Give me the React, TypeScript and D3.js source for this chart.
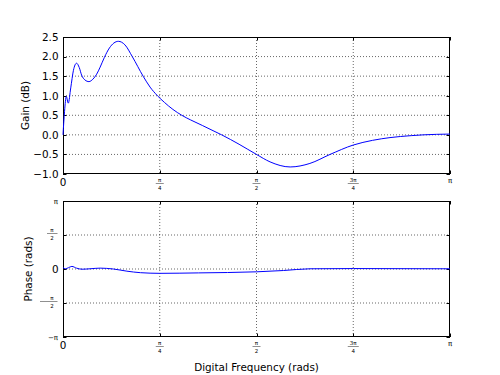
import * as d3 from 'd3';
import React, { useEffect, useRef } from 'react';

// frequency as a fraction of pi
const gainFreq = [0, 0.004, 0.0086, 0.0137, 0.02, 0.027, 0.035, 0.042, 0.048, 0.057, 0.067, 0.077, 0.087, 0.096, 0.107, 0.12, 0.143, 0.16, 0.179, 0.207, 0.225, 0.244, 0.262, 0.284, 0.307, 0.33, 0.36, 0.385, 0.41, 0.455, 0.5, 0.535, 0.587, 0.638, 0.69, 0.75, 0.8, 0.845, 0.9, 0.931, 1.0];
const gainDb = [0.0, 0.6, 0.98, 0.81, 1.2, 1.65, 1.83, 1.72, 1.53, 1.4, 1.36, 1.42, 1.55, 1.73, 1.98, 2.22, 2.39, 2.3, 2.0, 1.5, 1.22, 1.0, 0.83, 0.65, 0.5, 0.38, 0.24, 0.12, 0.0, -0.24, -0.5, -0.69, -0.82, -0.73, -0.5, -0.26, -0.14, -0.07, -0.02, 0.0, 0.02];

const phaseFreq = [0, 0.006, 0.014, 0.023, 0.035, 0.049, 0.07, 0.096, 0.13, 0.165, 0.2, 0.25, 0.35, 0.5, 0.57, 0.638, 0.75, 1.0];
const phaseRad = [0.07, 0.01, 0.06, 0.12, 0.04, -0.01, 0.01, 0.04, 0.0, -0.1, -0.17, -0.2, -0.18, -0.13, -0.07, 0.01, 0.02, 0.01];

const gainTicks = [-1.0, -0.5, 0.0, 0.5, 1.0, 1.5, 2.0, 2.5];
// pi-fraction ticks: [numerator, denominator] ('' denominator = no fraction)
const xTicks: { v: number; num: string; den: string }[] = [
    { v: 0, num: '0', den: '' },
    { v: 0.25, num: 'π', den: '4' },
    { v: 0.5, num: 'π', den: '2' },
    { v: 0.75, num: '3π', den: '4' },
    { v: 1, num: 'π', den: '' },
];
const phaseTicks: { v: number; num: string; den: string; neg: boolean }[] = [
    { v: -1, num: 'π', den: '', neg: true },
    { v: -0.5, num: 'π', den: '2', neg: true },
    { v: 0, num: '0', den: '', neg: false },
    { v: 0.5, num: 'π', den: '2', neg: false },
    { v: 1, num: 'π', den: '', neg: false },
];

const FONT = '"DejaVu Sans", sans-serif';

export default function App() {
    const ref = useRef<SVGSVGElement>(null);
    const width = 500;
    const height = 375;
    const left = 63;
    const right = 450;

    useEffect(() => {
        const svg = d3.select(ref.current);
        svg.selectAll('*').remove();

        const x = d3.scaleLinear().domain([0, 1]).range([left, right]);

        const panel = (top: number, bottom: number, y: d3.ScaleLinear<number, number>, yVals: number[]) => {
            const g = svg.append('g');
            // grid
            xTicks.slice(1, -1).forEach((t) => {
                g.append('line')
                    .attr('x1', x(t.v)).attr('x2', x(t.v))
                    .attr('y1', top).attr('y2', bottom)
                    .attr('stroke', '#000').attr('stroke-width', 0.6)
                    .attr('stroke-dasharray', '1,2');
            });
            yVals.forEach((v) => {
                const yy = y(v);
                if (Math.abs(yy - top) < 1 || Math.abs(yy - bottom) < 1) return;
                g.append('line')
                    .attr('x1', left).attr('x2', right)
                    .attr('y1', yy).attr('y2', yy)
                    .attr('stroke', '#000').attr('stroke-width', 0.6)
                    .attr('stroke-dasharray', '1,2');
            });
            // ticks inward on all sides
            xTicks.forEach((t) => {
                const xx = Math.round(x(t.v)) + 0.5;
                g.append('line').attr('x1', xx).attr('x2', xx).attr('y1', bottom).attr('y2', bottom - 3.5).attr('stroke', '#000');
                g.append('line').attr('x1', xx).attr('x2', xx).attr('y1', top).attr('y2', top + 3.5).attr('stroke', '#000');
            });
            yVals.forEach((v) => {
                const yy = Math.round(y(v)) + 0.5;
                g.append('line').attr('x1', left).attr('x2', left + 3.5).attr('y1', yy).attr('y2', yy).attr('stroke', '#000');
                g.append('line').attr('x1', right).attr('x2', right - 3.5).attr('y1', yy).attr('y2', yy).attr('stroke', '#000');
            });
            // x tick labels
            xTicks.forEach((t) => {
                const xx = x(t.v);
                if (t.num === '0') {
                    g.append('text').attr('x', xx).attr('y', bottom + 11.5)
                        .attr('text-anchor', 'middle').attr('font-size', 10.4).attr('font-family', FONT).text('0');
                } else if (t.den === '') {
                    g.append('text').attr('x', xx).attr('y', bottom + 9)
                        .attr('text-anchor', 'middle').attr('font-size', 7).attr('font-family', FONT).text(t.num);
                } else {
                    const w = t.num.length > 1 ? 11 : 8;
                    g.append('text').attr('x', xx).attr('y', bottom + 7.5)
                        .attr('text-anchor', 'middle').attr('font-size', 5.5).attr('font-family', FONT).text(t.num);
                    g.append('line').attr('x1', xx - w / 2).attr('x2', xx + w / 2)
                        .attr('y1', bottom + 9.5).attr('y2', bottom + 9.5).attr('stroke', '#444').attr('stroke-width', 0.6);
                    g.append('text').attr('x', xx).attr('y', bottom + 16)
                        .attr('text-anchor', 'middle').attr('font-size', 5.5).attr('font-family', FONT).text(t.den);
                }
            });
            // frame
            g.append('rect')
                .attr('x', left + 0.5).attr('y', top + 0.5)
                .attr('width', right - left - 1).attr('height', bottom - top - 1)
                .attr('fill', 'none').attr('stroke', '#000').attr('stroke-width', 1);
            return g;
        };

        // gain panel
        const gTop = 37;
        const gBottom = 174;
        const yGain = d3.scaleLinear().domain([-1, 2.5]).range([gBottom, gTop]);
        const g1 = panel(gTop, gBottom, yGain, gainTicks);
        gainTicks.forEach((v) => {
            g1.append('text').attr('x', 58.5).attr('y', yGain(v) + 3.8)
                .attr('text-anchor', 'end').attr('font-size', 10.4).attr('font-family', FONT)
                .text(v.toFixed(1).replace('-', '\u2212'));
        });
        const gainLine = d3.line<number>()
            .x((d, i) => x(gainFreq[i]))
            .y((d) => yGain(d))
            .curve(d3.curveMonotoneX);
        g1.append('path').attr('d', gainLine(gainDb)!)
            .attr('fill', 'none').attr('stroke', '#0000ff').attr('stroke-width', 1);
        g1.append('text')
            .attr('transform', `translate(28.5, ${(gTop + gBottom) / 2}) rotate(-90)`)
            .attr('text-anchor', 'middle').attr('font-size', 10.4).attr('font-family', FONT)
            .text('Gain (dB)');

        // phase panel
        const pTop = 201;
        const pBottom = 337;
        const yPhase = d3.scaleLinear().domain([-Math.PI, Math.PI]).range([pBottom, pTop]);
        const g2 = panel(pTop, pBottom, yPhase, phaseTicks.map((t) => t.v * Math.PI));
        phaseTicks.forEach((t) => {
            const yy = yPhase(t.v * Math.PI);
            if (t.num === '0') {
                g2.append('text').attr('x', 58.5).attr('y', yy + 3.8)
                    .attr('text-anchor', 'end').attr('font-size', 10.4).attr('font-family', FONT).text('0');
            } else if (t.den === '') {
                g2.append('text').attr('x', 58).attr('y', yy + 2.5)
                    .attr('text-anchor', 'end').attr('font-size', 7).attr('font-family', FONT)
                    .text((t.neg ? '\u2212' : '') + t.num);
            } else {
                const cx = 52;
                g2.append('text').attr('x', cx).attr('y', yy - 3.5)
                    .attr('text-anchor', 'middle').attr('font-size', 5.5).attr('font-family', FONT).text(t.num);
                g2.append('line').attr('x1', t.neg ? 40 : 47).attr('x2', 57.5)
                    .attr('y1', yy - 1.5).attr('y2', yy - 1.5).attr('stroke', '#444').attr('stroke-width', 0.6);
                g2.append('text').attr('x', cx).attr('y', yy + 4.5)
                    .attr('text-anchor', 'middle').attr('font-size', 5.5).attr('font-family', FONT).text(t.den);
            }
        });
        const phaseLine = d3.line<number>()
            .x((d, i) => x(phaseFreq[i]))
            .y((d) => yPhase(d))
            .curve(d3.curveMonotoneX);
        g2.append('path').attr('d', phaseLine(phaseRad)!)
            .attr('fill', 'none').attr('stroke', '#0000ff').attr('stroke-width', 1);
        g2.append('text')
            .attr('transform', `translate(31.5, ${(pTop + pBottom) / 2}) rotate(-90)`)
            .attr('text-anchor', 'middle').attr('font-size', 10.4).attr('font-family', FONT)
            .text('Phase (rads)');
        svg.append('text')
            .attr('x', (left + right) / 2).attr('y', 370.5)
            .attr('text-anchor', 'middle').attr('font-size', 10.4).attr('font-family', FONT)
            .text('Digital Frequency (rads)');
    }, []);

    return (
        <svg ref={ref} width={width} height={height}
            style={{ position: 'absolute', left: 0, top: 0, background: '#fff' }} />
    );
}
